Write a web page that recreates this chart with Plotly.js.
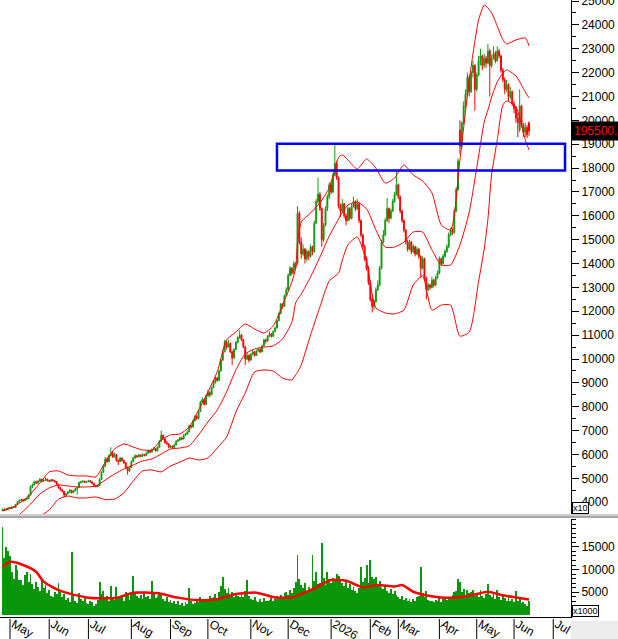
<!DOCTYPE html>
<html>
<head>
<meta charset="utf-8">
<script src="https://cdn.plot.ly/plotly-3.0.1.min.js"></script>
<style>
  html, body { margin: 0; padding: 0; background: #fff; }
  #chart { width: 618px; height: 639px; }
</style>
</head>
<body>
<div id="chart"></div>
<script>
// daily candles, prices in units of 10 (the axis says x10)
var open = [
  3650,3710,3680,3720,3770,3740,3800,3780,3900,4010,
  4080,4110,4060,4120,4150,4300,4650,4720,4860,4800,
  4880,4960,4870,4920,4970,4900,4880,4940,4900,4860,
  4750,4600,4520,4450,4280,4350,4420,4500,4400,4480,
  4560,4620,4820,4850,4880,4830,4860,4900,4850,4780,
  4700,4650,4700,4950,5250,5500,5800,5700,5950,6050,
  5900,6000,5750,5700,5850,5750,5650,5450,5300,5450,
  5700,5850,5950,5900,5980,5920,6000,5950,6050,6150,
  6100,6200,6250,6150,6300,6550,6800,6650,6500,6450,
  6300,6350,6280,6400,6550,6600,6700,6650,6800,6850,
  6950,7200,7150,7400,7600,7500,7800,8200,8300,8100,
  8450,8600,8500,8800,9000,9200,9100,9500,9950,10300,
  10700,10500,10650,10300,10050,10400,10700,10900,11000,10800,
  10500,10000,10150,9950,10200,10300,10150,10350,10400,10300,
  10550,10800,10750,10950,11050,10950,11150,11300,11600,11900,
  12300,12200,12650,12900,13500,13800,13600,14000,14000,16100,
  14900,14400,14600,14200,14500,14300,14700,14500,15700,16600,
  16900,16300,15000,15600,16300,16800,17300,17000,17700,18200,
  17600,16400,16200,16500,16000,15800,16300,15900,16400,16600,
  16300,16500,15800,15200,14700,14200,13800,13200,12500,12200,
  12400,12900,13100,13800,14900,15200,15800,16300,15900,16200,
  16600,16900,17300,16800,16200,15800,15400,14900,14600,14900,
  14500,14700,14400,14600,14300,13800,14200,13400,12900,13100,
  13000,13300,13100,13400,13600,14200,14000,14300,14500,14700,
  15200,15400,15300,16200,17100,19600,18900,19900,20600,21100,
  21800,21200,22000,22300,21300,21900,22500,22700,22300,22600,
  22400,22900,22300,22600,22800,22500,22900,22700,22100,21700,
  21300,21500,21000,21200,20700,20500,20100,19600,20600,19800,
  19500,19700,19900
];
var high = [
  3740,3730,3750,3780,3790,3830,3820,3930,4050,4110,
  4150,4130,4150,4190,4330,4700,4780,4900,4900,4920,
  5020,4990,4960,5050,4990,4940,4980,4960,4930,4880,
  4770,4640,4560,4470,4400,4470,4560,4520,4520,4600,
  4660,4870,4900,4920,4900,4890,4940,4920,4870,4800,
  4720,4730,5000,5300,5550,5900,5880,6000,6300,6150,
  6080,6020,5800,5900,5870,5780,5680,5500,5500,5750,
  5900,6000,5970,6020,6000,6050,6020,6100,6200,6180,
  6250,6310,6270,6350,6600,7000,6850,6700,6580,6470,
  6400,6370,6450,6600,6650,6750,6720,6850,6900,7000,
  7250,7230,7450,7650,7640,7850,8250,8400,8320,8500,
  8700,8650,8850,9100,9300,9250,9550,10000,10400,10800,
  10750,10800,10700,10350,10450,10750,10950,11200,11050,10850,
  10550,10250,10200,10250,10400,10320,10400,10480,10450,10600,
  10850,10850,11000,11150,11080,11200,11350,11650,11950,12350,
  12350,12700,13000,13600,13900,13850,14100,14050,16400,16200,
  15100,14800,14650,14600,14550,14800,14750,15800,16700,17600,
  17000,16350,15700,16400,16900,17400,17450,17800,19000,18300,
  17650,16500,16700,16550,16100,16400,16350,16500,16800,16650,
  16700,16550,15850,15250,14800,14300,13900,13300,12600,12500,
  13000,13300,13900,15000,15400,15900,16750,16350,16300,16700,
  17000,17900,17350,16850,16250,15850,15450,15000,15000,14950,
  14800,14750,14700,14650,14350,14300,14250,13450,13200,13150,
  13450,13350,13500,13700,14300,14250,14400,14600,14800,15300,
  15500,15500,16300,17200,18400,20000,19950,20800,21300,22000,
  21900,22100,22500,22350,22000,22700,23000,22750,22800,22700,
  23200,23000,22750,23100,22900,23100,23000,22750,22200,21800,
  21700,21550,21400,21250,20800,20600,20300,21300,20650,19900,
  19900,19800,19950
];
var low = [
  3630,3650,3670,3700,3720,3730,3750,3770,3880,3990,
  4050,4020,4040,4090,4140,4290,4600,4700,4760,4780,
  4860,4830,4850,4900,4870,4840,4860,4870,4820,4720,
  4570,4480,4400,4200,4250,4330,4400,4360,4380,4460,
  4320,4600,4780,4830,4800,4810,4840,4820,4750,4670,
  4620,4630,4690,4940,5230,5480,5650,5680,5920,5850,
  5870,5700,5550,5680,5700,5600,5400,5150,5280,5430,
  5680,5830,5870,5880,5900,5900,5920,5930,6030,6070,
  6080,6180,6120,6130,6280,6530,6600,6450,6400,6250,
  6280,6240,6260,6380,6530,6580,6600,6630,6780,6830,
  6930,7080,7130,7380,7450,7480,7780,8150,8050,8080,
  8430,8400,8480,8780,8980,9050,9080,9480,9930,10280,
  10400,10480,10250,9750,10000,10380,10650,10850,10750,10450,
  9750,9950,9850,9930,10150,10100,10130,10300,10250,10280,
  10530,10650,10730,10930,10900,10930,11130,11280,11580,11880,
  12100,12180,12630,12880,13480,13500,13580,13750,13950,14800,
  14200,14300,14000,14100,14150,14250,14350,14450,15650,16500,
  16200,14700,14900,15550,16200,16700,16900,16950,17650,17500,
  16300,15950,16100,15900,15600,15750,15800,15850,16350,16200,
  16250,15700,15100,14600,14100,13700,13100,12400,11950,12050,
  12350,12850,13050,13750,14850,15150,15750,15700,15850,16150,
  16550,16850,16700,16100,15700,15300,14800,14500,14550,14400,
  14450,14300,14350,14200,13400,13750,13300,12500,12850,12900,
  12950,13000,13050,13350,13550,13900,13950,14250,14450,14650,
  15150,15200,15250,16150,17050,18600,18800,19800,20500,21000,
  21000,21150,21800,20400,21200,21850,22300,22100,22200,22200,
  22350,21000,22200,22550,22400,22450,22600,22000,21600,21100,
  21200,20800,20900,20600,20300,19900,19300,19500,19700,19300,
  19300,19250,19350
];
var close = [
  3700,3680,3720,3760,3750,3800,3780,3900,4010,4080,
  4100,4060,4120,4150,4300,4650,4720,4850,4800,4880,
  4950,4870,4920,4960,4900,4880,4930,4900,4860,4750,
  4600,4520,4450,4300,4350,4420,4500,4400,4480,4560,
  4620,4820,4850,4880,4830,4860,4900,4850,4780,4700,
  4650,4700,4950,5250,5500,5800,5700,5950,6050,5900,
  6000,5750,5700,5850,5750,5650,5450,5300,5450,5700,
  5850,5950,5900,5980,5920,6000,5950,6050,6150,6100,
  6200,6250,6150,6300,6550,6800,6650,6500,6450,6300,
  6350,6280,6400,6550,6600,6700,6650,6800,6850,6950,
  7200,7150,7400,7600,7500,7800,8200,8300,8100,8450,
  8600,8500,8800,9000,9200,9100,9500,9950,10300,10700,
  10500,10650,10300,10050,10400,10700,10900,11000,10800,10500,
  10000,10150,9950,10200,10300,10150,10350,10400,10300,10550,
  10800,10750,10950,11050,10950,11150,11300,11600,11900,12300,
  12200,12650,12900,13500,13800,13600,14000,13850,16100,14900,
  14400,14600,14200,14500,14300,14700,14500,15700,16600,16900,
  16300,15000,15600,16300,16800,17300,17000,17700,18200,17600,
  16400,16200,16500,16000,15800,16300,15900,16400,16600,16300,
  16500,15800,15200,14700,14200,13800,13200,12500,12200,12400,
  12900,13100,13800,14900,15200,15800,16300,15900,16200,16600,
  16900,17300,16800,16200,15800,15400,14900,14600,14900,14500,
  14700,14400,14600,14300,13800,14200,13400,12900,13100,13000,
  13300,13100,13400,13600,14200,14000,14300,14500,14700,15200,
  15400,15300,16200,17100,18300,18900,19900,20600,21100,21800,
  21200,22000,22300,21300,21900,22500,22700,22300,22600,22400,
  22900,22300,22600,22800,22500,22900,22700,22100,21700,21300,
  21500,21000,21200,20700,20500,20100,19900,20600,19800,19500,
  19700,19400,19550
];
// volume in thousands (axis says x1000)
var volume = [
  19500,12500,15000,14200,13000,9500,8000,11000,9900,7600,
  7650,6500,8800,9500,7200,9100,6800,5600,7300,6100,
  5200,8000,6000,6550,4800,5500,4200,3900,5100,4600,
  6900,5000,3800,4500,3300,3600,2800,13800,4200,3000,
  2600,4800,3400,2900,3700,2500,2300,3100,2700,2000,
  2400,3300,7300,4500,5200,3800,4100,3000,6300,3500,
  3200,6200,3900,3600,4300,3000,5100,4700,3300,4600,
  8550,5000,4200,3700,4400,3500,4800,3900,4100,3400,
  7500,4600,3600,4200,5100,4300,3500,3000,3900,2800,
  3300,2600,2900,2400,3100,2200,2500,2000,2700,2300,
  5800,2900,2400,2600,3300,2700,3800,3500,2900,3400,
  3000,4200,3600,3900,4500,3700,5000,6400,8400,5600,
  4800,5800,4400,5100,4000,4600,4200,3800,4500,3900,
  5200,7650,4100,3500,3200,3800,3000,2700,3400,2800,
  3600,3100,2900,3300,3700,3000,3500,4100,3800,4400,
  3600,4700,5100,4300,5500,4800,5900,7300,13200,8000,
  6500,5800,6900,5200,6100,5600,13200,7400,9500,6800,
  7100,15800,8200,6600,9500,7800,6900,8100,7400,9000,
  8500,7600,7000,6400,7300,5900,6700,5500,6200,5300,
  4800,6000,10500,7200,8100,11000,6900,12100,8400,7800,
  8400,6800,7400,6000,5700,6500,5200,4800,5600,4500,
  5300,4300,3900,3500,4100,3200,3700,3000,3400,2800,
  3500,3100,3800,4200,10600,4700,3900,5200,3300,2900,
  3100,2700,3300,3000,3600,2800,3400,3700,3200,4000,
  3500,4300,4900,5300,7800,7300,5000,5600,4400,5400,
  4700,5100,5400,4200,4800,3900,5500,4100,3700,4500,
  6800,4300,3800,4600,3500,5400,3900,3300,4100,3600,
  3100,3800,2900,3400,2700,5200,3100,3500,2500,2800,
  2300,2000,3000
];

// bollinger lines at these trading days
var bandDay = [0,5,10,15,20,25,30,35,40,45,50,55,60,65,70,75,80,85,90,95,
  100,105,110,115,120,125,130,135,140,145,150,155,157,158,160,165,170,175,180,182,
  185,190,195,200,205,210,215,220,225,230,235,240,245,250,255,258,260,262,265,268,270,275,280,282];
var bandUpper = [3630,3760,4010,4340,4800,5270,5310,5140,5100,5100,5060,5680,6230,6440,6310,6190,6190,6610,6820,6860,
  7150,7860,8620,9460,10800,11130,11470,11260,11090,11380,12260,13230,13800,14900,15740,16120,16540,17170,18450,18550,
  18340,17960,18380,18000,17370,17580,18130,17710,17460,16960,15620,15410,18340,21690,24200,24830,24710,24500,23950,23380,23200,23370,23450,23120];
var bandMid = [2840,3170,3550,3920,4340,4600,4720,4680,4640,4640,4680,4930,5180,5390,5560,5730,5810,6020,6230,6270,
  6360,6820,7360,7860,8620,9540,10210,10420,10500,10550,10840,11550,12350,12500,12720,13440,14270,15150,15870,16150,
  16450,16580,16290,15410,14690,14690,14900,15320,15320,14570,13940,13940,14780,16160,18500,19930,20430,20980,21610,21980,22110,21860,21190,20940];
var bandLower = [2000,2420,2920,3250,3420,3670,4130,4260,4180,4180,4220,4110,4130,4390,4890,5310,5350,5270,5520,5680,
  5850,5770,5850,6270,6730,7780,8580,9460,9540,9500,9200,9120,9330,9450,9750,11010,12180,13270,13600,14150,
  14780,15110,14060,12140,11930,11890,12050,13100,13480,12050,12260,12260,10960,11130,13250,14610,15860,17750,19180,20640,20810,20560,19180,18760];

// volume moving average
var volMaDay = [0,4,11,18,22,30,39,45,51,62,70,83,94,104,115,125,136,146,155,165,
  176,184,193,201,210,214,220,226,235,243,252,260,267,275,282];
var volMa = [10600,11700,11000,9500,7300,5400,4300,3800,3600,3800,4850,4700,3750,3200,3400,4550,4850,3800,3800,5400,
  7650,7500,6050,6550,6200,6550,5050,4350,3800,3800,4350,5050,4350,3800,3350];

// month ticks (trading day index where each month starts)
var tickDays = [4,25,46,69,90,110,133,153,176,197,212,234,254,274,295];
var tickLabels = ['May','Jun','Jul','Aug','Sep','Oct','Nov','Dec','2026','Feb','Mar','Apr','May','Jun','Jul'];

// blue resistance box
var zoneStart = 147, zoneEnd = 301.3, zoneLow = 17900, zoneHigh = 19020;

var day = close.map(function(_, i){ return i; });
var green = '#119a11', red = '#ff0000';

var candles = {
  type: 'candlestick', x: day, open: open, high: high, low: low, close: close,
  xaxis: 'x', yaxis: 'y',
  increasing: {line: {color: green, width: 1}, fillcolor: green},
  decreasing: {line: {color: red, width: 1}, fillcolor: red},
  whiskerwidth: 0, hoverinfo: 'none'
};
function bandLine(vals){
  return {type: 'scatter', mode: 'lines', x: bandDay, y: vals, xaxis: 'x', yaxis: 'y',
    line: {color: red, width: 1, shape: 'spline', smoothing: 0.6}, hoverinfo: 'none'};
}
var volBars = {
  type: 'bar', x: day, y: volume, xaxis: 'x', yaxis: 'y2',
  marker: {color: '#0a960a', line: {width: 0}}, hoverinfo: 'none'
};
var volLine = {
  type: 'scatter', mode: 'lines', x: volMaDay, y: volMa, xaxis: 'x', yaxis: 'y2',
  line: {color: red, width: 2.5, shape: 'spline', smoothing: 0.6}, hoverinfo: 'none'
};

var plotH = 617; // px of plotting area (page 639 minus bottom margin)
function py(px){ return (plotH - px) / plotH; }

var shapes = [
  {type: 'rect', xref: 'x', yref: 'y', x0: zoneStart, x1: zoneEnd, y0: zoneLow, y1: zoneHigh,
   line: {color: '#0000ff', width: 2.5}},
  // panel separator
  {type: 'rect', xref: 'paper', yref: 'paper', x0: 0, x1: 1.09, y0: py(518), y1: py(514),
   fillcolor: '#cfcfcf', line: {width: 0}},
  {type: 'line', xref: 'paper', yref: 'paper', x0: 0, x1: 1.09, y0: py(517), y1: py(517),
   line: {color: '#808080', width: 1}},
  // grey corner under the price axis
  {type: 'rect', xref: 'paper', yref: 'paper', x0: 1.0, x1: 1.09, y0: py(645), y1: py(621),
   fillcolor: '#ececec', line: {width: 0}}
];
tickDays.forEach(function(d){
  shapes.push({type: 'line', xref: 'x', yref: 'paper', x0: d, x1: d, y0: py(619), y1: py(645),
    line: {color: '#000', width: 1}});
});

var layout = {
  width: 618, height: 639,
  margin: {l: 0, r: 47, t: 0, b: 22, pad: 0},
  paper_bgcolor: '#fff', plot_bgcolor: '#fff',
  showlegend: false, hovermode: false, bargap: 0,
  font: {family: 'Liberation Sans, Arial, sans-serif', size: 12, color: '#000'},
  xaxis: {
    anchor: 'y2', domain: [0, 1], range: [-1.36, 304.5],
    tickmode: 'array', tickvals: tickDays, ticktext: tickLabels,
    ticks: '', ticklabelposition: 'outside right', ticklabelstandoff: -5, ticklabelshift: 3,
    showline: true, linecolor: '#000', linewidth: 1,
    showgrid: false, zeroline: false, rangeslider: {visible: false}, fixedrange: true
  },
  yaxis: {
    anchor: 'x', side: 'right', domain: [py(515), 1], range: [3464, 25042],
    tickmode: 'linear', tick0: 0, dtick: 1000, tickformat: 'd', ticklabeloverflow: 'allow',
    ticks: 'outside', ticklen: 7, tickcolor: '#000',
    minor: {dtick: 500, ticks: 'outside', ticklen: 4, tickcolor: '#000'},
    showline: true, linecolor: '#000', linewidth: 1,
    showgrid: false, zeroline: false, fixedrange: true
  },
  yaxis2: {
    anchor: 'x', side: 'right', domain: [0, py(519)], range: [-555, 21220],
    tickmode: 'array', tickvals: [5000, 10000, 15000], tickformat: 'd',
    ticks: 'outside', ticklen: 7, tickcolor: '#000',
    minor: {tickmode: 'linear', tick0: 0, dtick: 1000, ticks: 'outside', ticklen: 4, tickcolor: '#000'},
    showline: true, linecolor: '#000', linewidth: 1,
    showgrid: false, zeroline: false, fixedrange: true
  },
  shapes: shapes,
  annotations: [
    {xref: 'paper', yref: 'y', x: 1, y: close[close.length - 1], xanchor: 'left', yanchor: 'middle',
     text: (close[close.length - 1] * 10).toFixed(1), showarrow: false,
     bgcolor: '#000', font: {color: '#ff0000', size: 12}, borderpad: 2},
    {xref: 'paper', yref: 'paper', x: 1, y: py(514), xanchor: 'left', yanchor: 'bottom', xshift: 1,
     text: 'x10', showarrow: false, bgcolor: '#fff', bordercolor: '#000', borderwidth: 1, borderpad: 0,
     font: {size: 9}},
    {xref: 'paper', yref: 'paper', x: 1, y: 0, xanchor: 'left', yanchor: 'bottom', xshift: 1,
     text: 'x1000', showarrow: false, bgcolor: '#fff', bordercolor: '#000', borderwidth: 1, borderpad: 0,
     font: {size: 9}}
  ]
};

Plotly.newPlot('chart',
  [volBars, volLine, bandLine(bandUpper), bandLine(bandMid), bandLine(bandLower), candles],
  layout, {staticPlot: true, displayModeBar: false});
</script>
</body>
</html>
